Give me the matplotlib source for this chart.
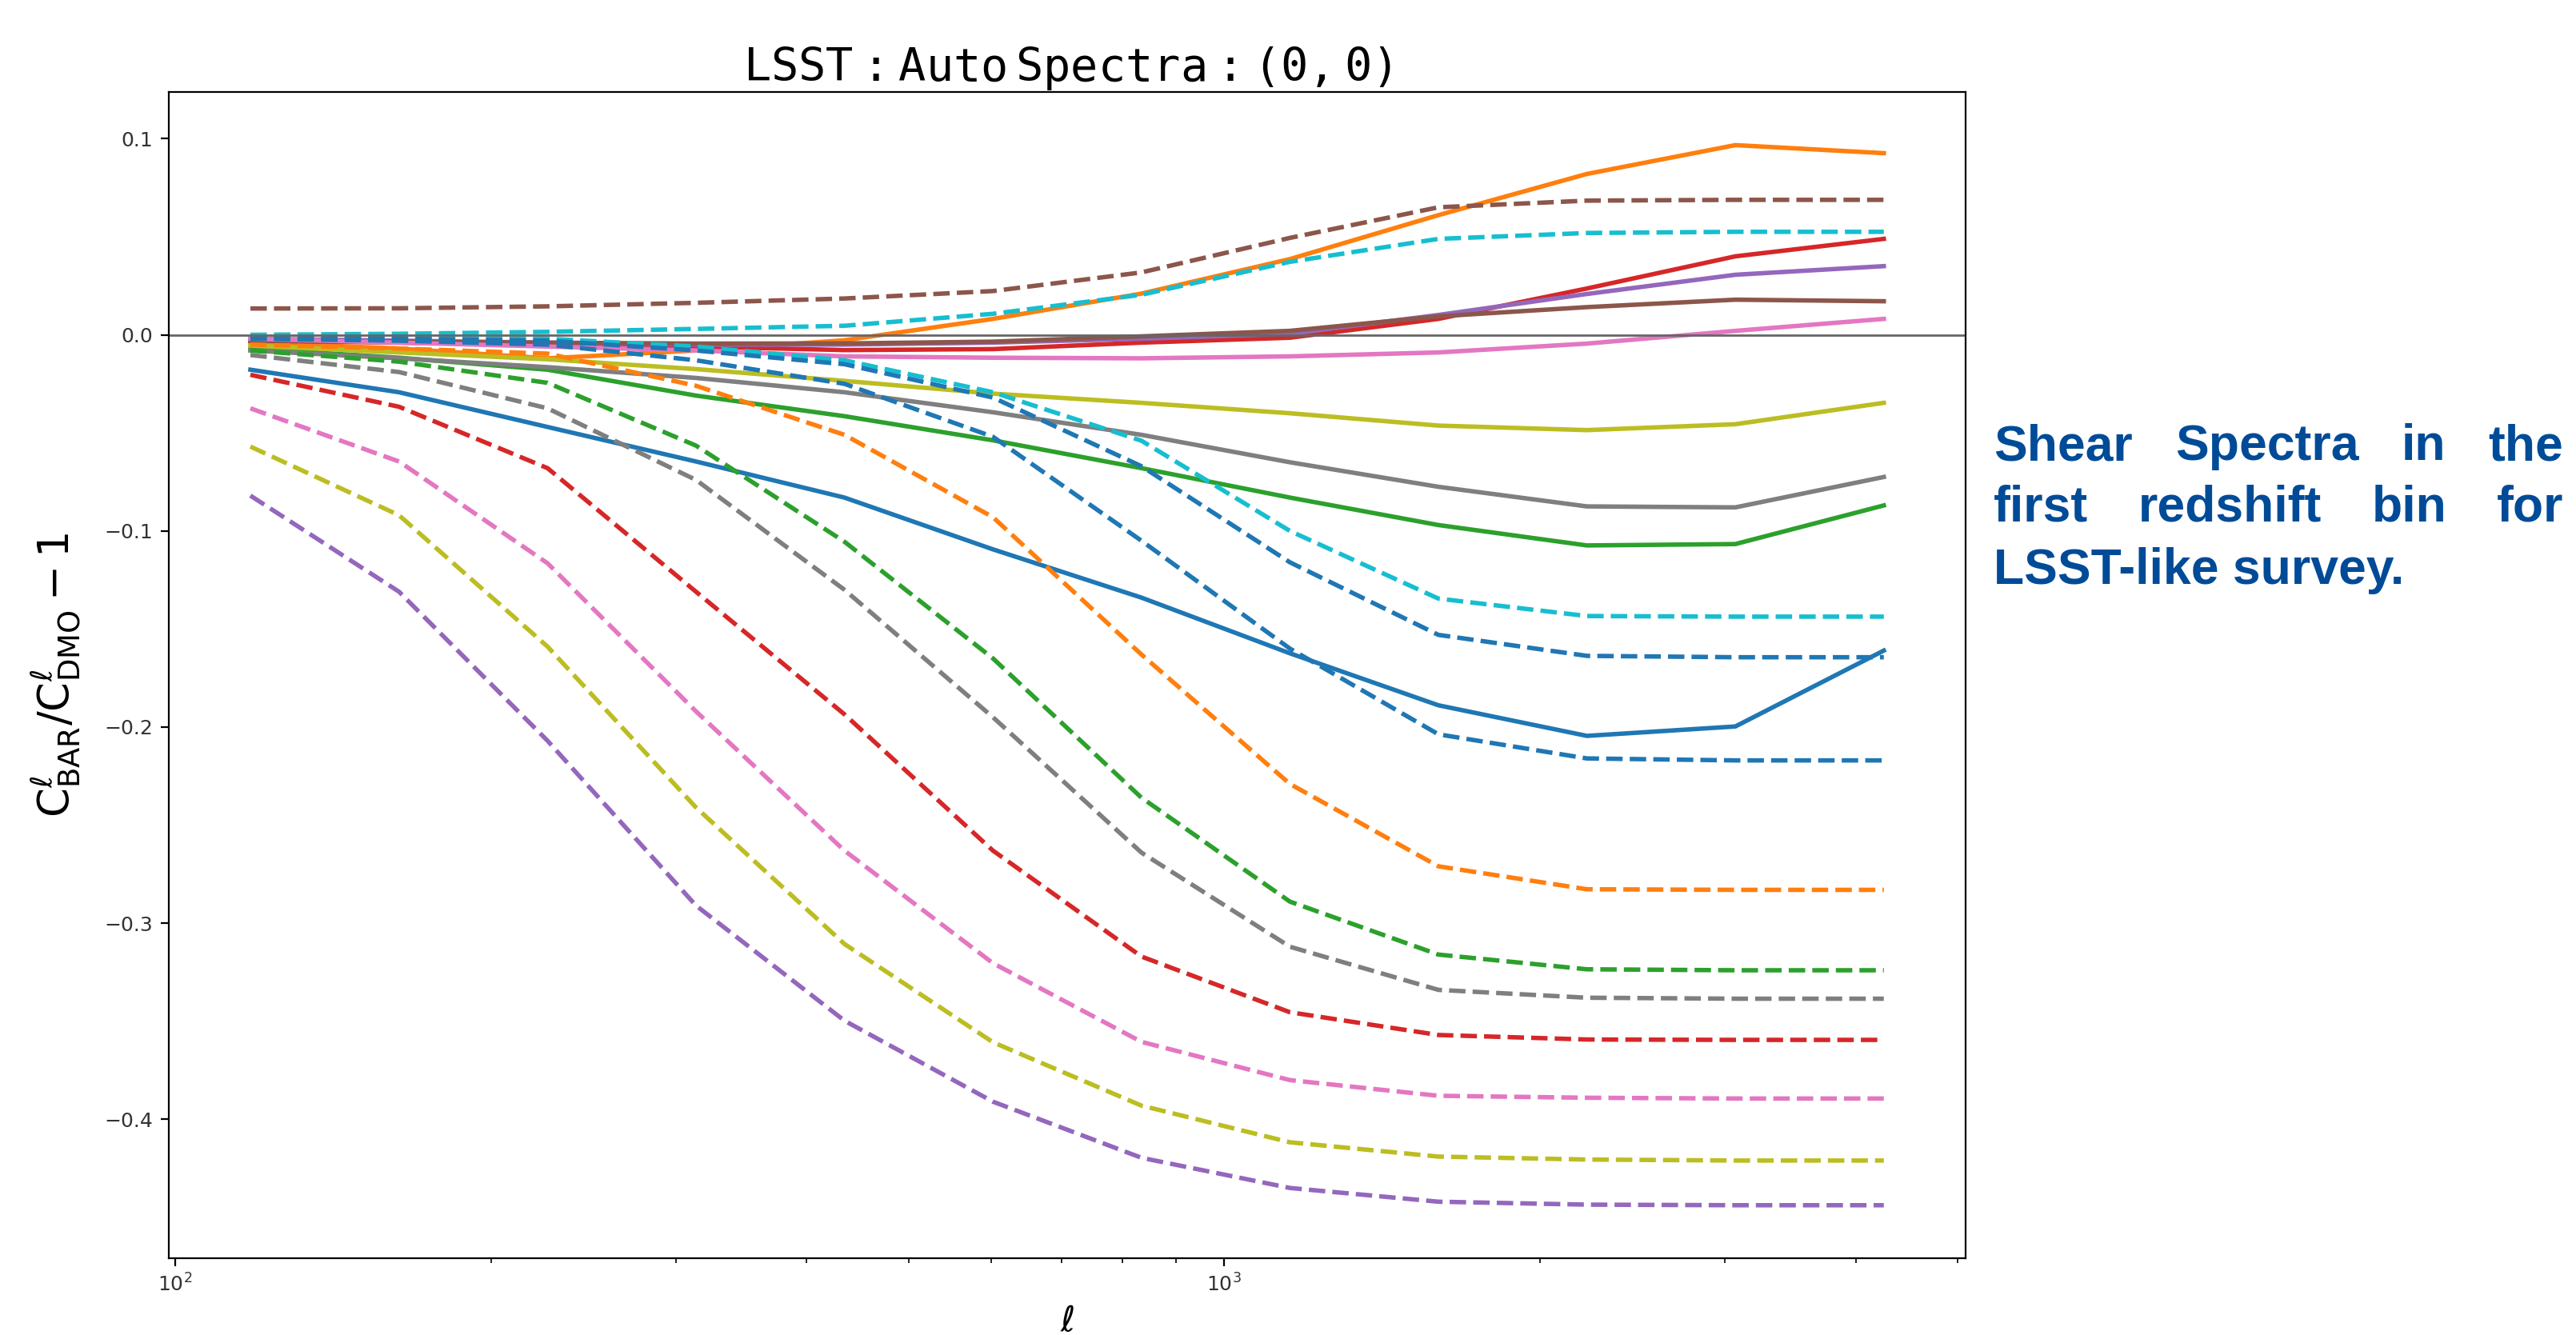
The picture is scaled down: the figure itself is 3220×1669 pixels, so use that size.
import matplotlib
matplotlib.use("Agg")
import matplotlib.pyplot as plt

# multipole bins
ell = [118.0, 163.5, 226.5, 313.7, 434.5, 601.9, 833.7, 1154.8, 1599.6, 2215.7, 3069.0, 4251.0]

# solid curves (C0..C8)
solid_blue = [-0.0178, -0.0293, -0.047, -0.0646, -0.083, -0.1094, -0.134, -0.1624, -0.1889, -0.2045, -0.1997, -0.161]
solid_orange = [-0.004, -0.007, -0.012, -0.008, -0.0028, 0.0081, 0.021, 0.0386, 0.061, 0.082, 0.0967, 0.0926]
solid_green = [-0.007, -0.0117, -0.0178, -0.031, -0.0415, -0.0538, -0.068, -0.083, -0.097, -0.1074, -0.1067, -0.087]
solid_red = [-0.003, -0.004, -0.005, -0.006, -0.0078, -0.0073, -0.004, -0.0015, 0.0081, 0.0236, 0.040, 0.0489]
solid_purple = [-0.002, -0.003, -0.004, -0.005, -0.005, -0.004, -0.002, 0.0005, 0.0101, 0.0208, 0.0306, 0.035]
solid_brown = [-0.003, -0.0035, -0.004, -0.0045, -0.0044, -0.0035, -0.0008, 0.002, 0.0094, 0.0141, 0.0179, 0.0171]
solid_pink = [-0.002, -0.004, -0.006, -0.008, -0.011, -0.0117, -0.012, -0.011, -0.009, -0.0045, 0.002, 0.0081]
solid_gray = [-0.008, -0.012, -0.0165, -0.022, -0.0293, -0.0395, -0.051, -0.065, -0.0775, -0.0875, -0.088, -0.0725]
solid_olive = [-0.0055, -0.009, -0.0125, -0.0175, -0.0235, -0.030, -0.0347, -0.040, -0.0463, -0.0486, -0.0456, -0.0347]

# dashed curves (colour cycle continues: C9, C0, C1 ... C9, C0)
dashed_cyan_a = [0.0, 0.0005, 0.0015, 0.003, 0.0046, 0.0107, 0.0204, 0.0372, 0.0489, 0.0519, 0.0525, 0.0525]
dashed_blue_a = [-0.002, -0.003, -0.005, -0.013, -0.025, -0.052, -0.105, -0.16, -0.2037, -0.216, -0.217, -0.217]
dashed_orange = [-0.005, -0.007, -0.0096, -0.026, -0.051, -0.093, -0.163, -0.229, -0.271, -0.2827, -0.283, -0.283]
dashed_green = [-0.008, -0.0137, -0.0245, -0.0565, -0.1055, -0.165, -0.236, -0.289, -0.316, -0.3235, -0.324, -0.324]
dashed_red = [-0.0204, -0.0367, -0.068, -0.131, -0.1935, -0.263, -0.317, -0.3454, -0.357, -0.3593, -0.3595, -0.3595]
dashed_purple = [-0.082, -0.131, -0.207, -0.291, -0.3497, -0.391, -0.4196, -0.435, -0.442, -0.4435, -0.4438, -0.4438]
dashed_brown = [0.0134, 0.0135, 0.0145, 0.0163, 0.0185, 0.0223, 0.0318, 0.0494, 0.065, 0.0684, 0.0688, 0.0688]
dashed_pink = [-0.0375, -0.0646, -0.1165, -0.192, -0.263, -0.3204, -0.3605, -0.38, -0.388, -0.389, -0.3894, -0.3894]
dashed_gray = [-0.0103, -0.019, -0.0375, -0.074, -0.13, -0.195, -0.264, -0.312, -0.334, -0.338, -0.3385, -0.3385]
dashed_olive = [-0.057, -0.092, -0.159, -0.241, -0.3106, -0.3607, -0.393, -0.4117, -0.419, -0.4205, -0.421, -0.421]
dashed_cyan_b = [-0.001, -0.0012, -0.002, -0.006, -0.013, -0.0293, -0.054, -0.1, -0.1345, -0.1434, -0.1437, -0.1437]
dashed_blue_b = [-0.0015, -0.002, -0.003, -0.008, -0.015, -0.032, -0.067, -0.116, -0.153, -0.1637, -0.1644, -0.1644]

solid_series = [solid_blue, solid_orange, solid_green, solid_red, solid_purple,
                solid_brown, solid_pink, solid_gray, solid_olive]
dashed_series = [dashed_cyan_a, dashed_blue_a, dashed_orange, dashed_green, dashed_red,
                 dashed_purple, dashed_brown, dashed_pink, dashed_gray, dashed_olive,
                 dashed_cyan_b, dashed_blue_b]

note_lines = [["Shear", "Spectra", "in", "the"],
              ["first", "redshift", "bin", "for"]]
note_last = "LSST-like survey."

fig = plt.figure(figsize=(16.1, 8.345), dpi=200)
ax = fig.add_axes([0.0655, 0.0575, 0.6975, 0.8735])

for ys in solid_series:
    ax.plot(ell, ys, linestyle='-', lw=2)
for ys in dashed_series:
    ax.plot(ell, ys, linestyle='--', lw=2)

ax.axhline(0, color='0.4', lw=1)
ax.set_xscale('log')
ax.tick_params(labelsize=9, labelcolor='#333333')

ax.set_title(r'$\mathtt{LSST : Auto\,Spectra : (0,0)}$', fontsize=20.5, pad=3)
ax.set_ylabel(r'$\mathrm{C}^{\ell}_{\mathrm{BAR}}/\mathrm{C}^{\ell}_{\mathrm{DMO}} - 1$', fontsize=19)
ax.yaxis.set_label_coords(-0.048, 0.5)
ax.set_xlabel(r'$\ell$', fontsize=16)
ax.xaxis.set_label_coords(0.5, -0.039)

# justified note on the right
kw = dict(fontsize=22.5, fontweight='bold', color='#004B98', family='Liberation Sans', va='baseline')
x0, x1 = 2492 / 3220, 3204 / 3220
baselines = [1 - 575 / 1669, 1 - 652 / 1669, 1 - 730 / 1669]
r = fig.canvas.get_renderer()
for words, y in zip(note_lines, baselines[:2]):
    txts = [fig.text(0, y, w, **kw) for w in words]
    widths = [t.get_window_extent(r).width / fig.bbox.width for t in txts]
    gap = (x1 - x0 - sum(widths)) / (len(words) - 1)
    x = x0
    for t, w in zip(txts, widths):
        t.set_x(x)
        x += w + gap
fig.text(x0, baselines[2], note_last, **kw)

fig.savefig('out.png', dpi=200)
